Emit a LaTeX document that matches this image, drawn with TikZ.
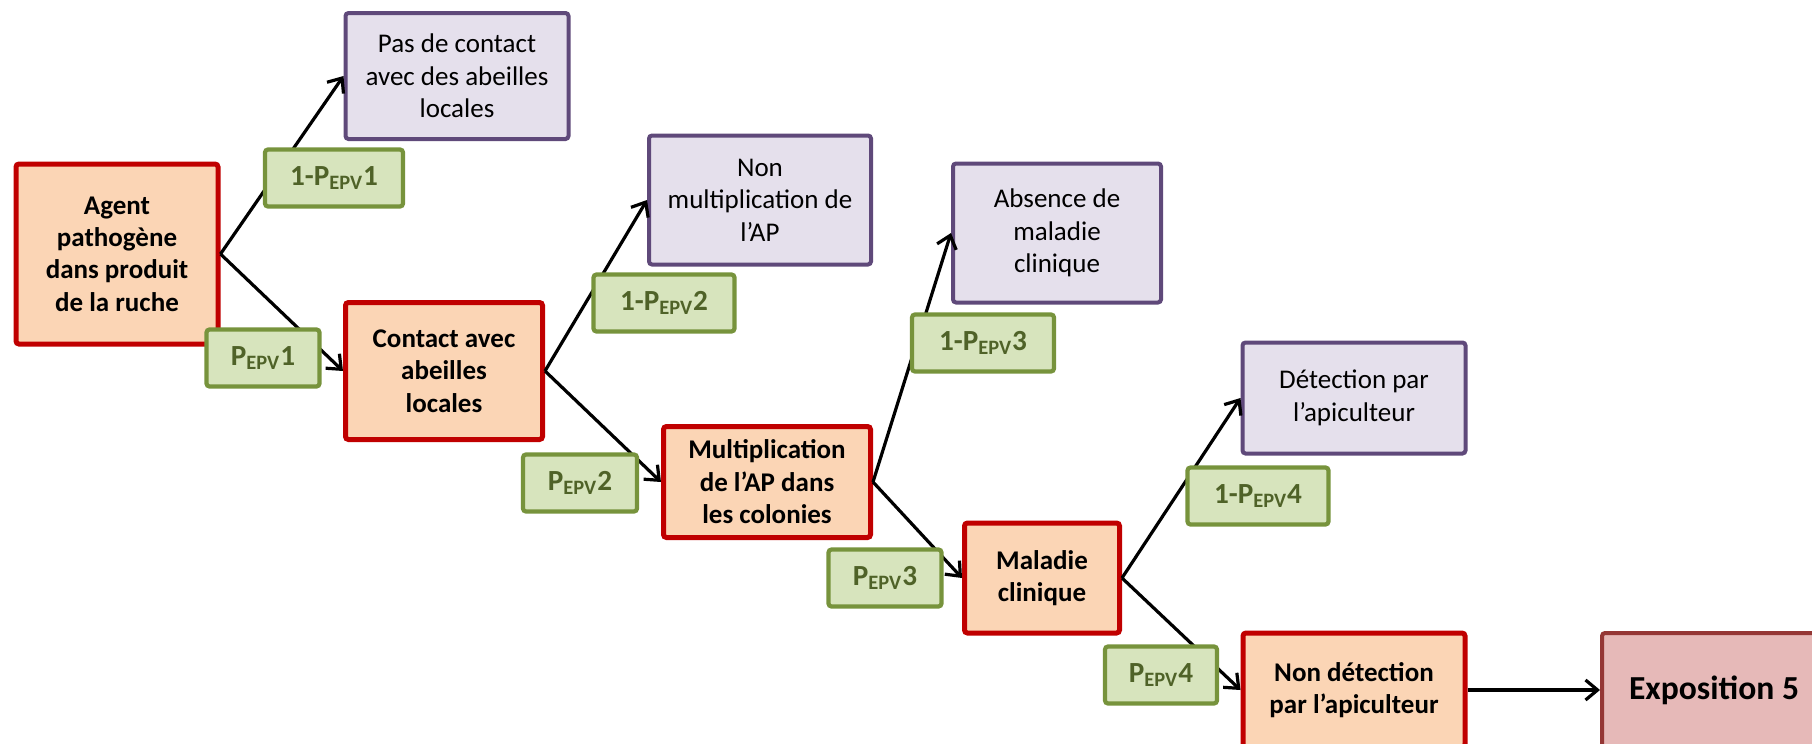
\documentclass[tikz,border=0pt]{standalone}
\usepackage{fontspec}
\setmainfont{Carlito}
\usetikzlibrary{arrows.meta, positioning}
\definecolor{rouge}{HTML}{C00000}
\definecolor{saumon}{HTML}{FBD5B5}
\definecolor{mauve}{HTML}{5F497A}
\definecolor{lavande}{HTML}{E5E0EC}
\definecolor{kaki}{HTML}{77933C}
\definecolor{vertclair}{HTML}{D7E4BD}
\definecolor{vertfonce}{HTML}{4F6228}
\definecolor{brique}{HTML}{953735}
\definecolor{rosepale}{HTML}{E6B9B8}
\newcommand{\pepv}[1]{P\textsubscript{EPV}#1}

\begin{document}
\begin{tikzpicture}[x=0.5pt, y=-0.5pt, >={Straight Barb[length=6pt,width=10pt]},
        every node/.style={align=center, inner sep=2pt, rounded corners=1.5pt, font=\fontsize{13.5}{16.2}\selectfont},
        etat/.style={rectangle, draw=rouge, fill=saumon, line width=2.5pt, font=\fontsize{13.5}{16.2}\selectfont\bfseries},
        fin/.style={rectangle, draw=mauve, fill=lavande, line width=2pt},
        proba/.style={rectangle, draw=kaki, fill=vertclair, line width=2.1pt, minimum height=28.5pt, text=vertfonce, font=\fontsize{14.6}{16}\selectfont\bfseries},
        expo/.style={rectangle, draw=brique, fill=rosepale, line width=2pt, font=\fontsize{16.8}{19}\selectfont\bfseries},
        fleche/.style={->, line width=1.6pt}]
            \useasboundingbox (0,0) rectangle (1812,744);
            \clip (0,0) rectangle (1812,744);

            % etapes du scenario
            \node[etat, minimum width=101pt, minimum height=90pt] (agent) at (117,254) {Agent\\pathogène\\dans produit\\de la ruche};
            \node[etat, minimum width=98.5pt, minimum height=68.5pt] (contact) at (444,371) {Contact avec\\abeilles\\locales};
            \node[etat, minimum width=103.5pt, minimum height=55.5pt] (mult) at (767,482) {Multiplication\\de l’AP dans\\les colonies};
            \node[etat, minimum width=77.5pt, minimum height=55pt] (maladie) at (1042,578) {Maladie\\clinique};
            \node[etat, minimum width=111pt, minimum height=57pt] (nondetection) at (1354,690) {Non détection\\par l’apiculteur};
            \node[expo, minimum width=112pt, minimum height=57pt] (expo5) at (1714,690) {Exposition 5};

            % issues sans exposition
            \node[fin, minimum width=111.5pt, minimum height=63pt] (pascontact) at (457,76) {Pas de contact\\avec des abeilles\\locales};
            \node[fin, minimum width=111pt, minimum height=64.5pt] (nonmult) at (760,200) {Non\\multiplication de\\l’AP};
            \node[fin, minimum width=104pt, minimum height=69.5pt] (absence) at (1057,233) {Absence de\\maladie\\clinique};
            \node[fin, minimum width=111.5pt, minimum height=55.5pt] (detection) at (1354,398) {Détection par\\l’apiculteur};

            \draw[fleche] (agent.east) -- (pascontact.west);
            \draw[fleche] (agent.east) -- (contact.west);
            \draw[fleche] (contact.east) -- (nonmult.west);
            \draw[fleche] (contact.east) -- (mult.west);
            \draw[fleche] (mult.east) -- (absence.west);
            \draw[fleche] (mult.east) -- (maladie.west);
            \draw[fleche] (maladie.east) -- (detection.west);
            \draw[fleche] (maladie.east) -- (nondetection.west);
            \draw[fleche] (nondetection) -- (expo5);

            % probabilites
            \node[proba, minimum width=69pt] (q1) at (334,178) {1-\pepv{1}};
            \node[proba, minimum width=56.5pt] (p1) at (263,358) {\pepv{1}};
            \node[proba, minimum width=70.5pt] (q2) at (664,303) {1-\pepv{2}};
            \node[proba, minimum width=57pt] (p2) at (580,483) {\pepv{2}};
            \node[proba, minimum width=71pt] (q3) at (983,343) {1-\pepv{3}};
            \node[proba, minimum width=56.5pt] (p3) at (885,578) {\pepv{3}};
            \node[proba, minimum width=70.5pt] (q4) at (1258,496) {1-\pepv{4}};
            \node[proba, minimum width=56pt] (p4) at (1161,675) {\pepv{4}};
        \end{tikzpicture}
\end{document}
